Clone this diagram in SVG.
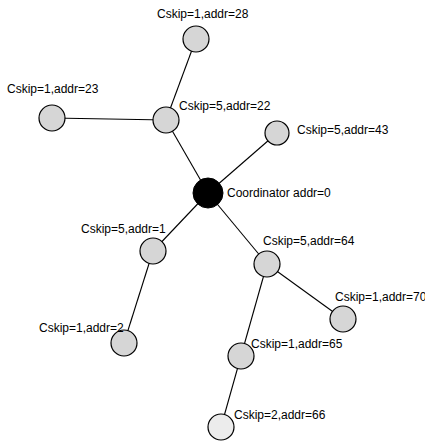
<svg xmlns="http://www.w3.org/2000/svg" width="425" height="442" viewBox="0 0 425 442">
<style>
.n{fill:#d6d6d6;stroke:#000;stroke-width:1.2}
.c{fill:#000;stroke:#000}
.l{font-family:"Liberation Sans",Arial,sans-serif;font-size:12px;fill:#000}
.e{stroke:#000;stroke-width:1.1;fill:none}
</style>
<rect width="425" height="442" fill="#fff"/>
<g id="connectors">
<line class="e" x1="208" y1="193" x2="166" y2="120"/>
<line class="e" x1="166" y1="120" x2="196" y2="39"/>
<line class="e" x1="166" y1="120" x2="52" y2="118"/>
<line class="e" x1="208" y1="193" x2="277" y2="133"/>
<line class="e" x1="208" y1="193" x2="153" y2="251"/>
<line class="e" x1="153" y1="251" x2="124" y2="343"/>
<line class="e" x1="208" y1="193" x2="267" y2="264"/>
<line class="e" x1="267" y1="264" x2="343" y2="319"/>
<line class="e" x1="267" y1="264" x2="241" y2="356"/>
<line class="e" x1="241" y1="356" x2="221" y2="427"/>
</g>
<g id="node-coordinator"><circle class="c" cx="208" cy="193" r="15"/><text class="l" x="227" y="197">Coordinator addr=0</text></g>
<g id="node-22"><circle class="n" cx="166" cy="120" r="13"/><text class="l" x="179" y="110">Cskip=5,addr=22</text></g>
<g id="node-28"><circle class="n" cx="196" cy="39" r="13"/><text class="l" x="157" y="18">Cskip=1,addr=28</text></g>
<g id="node-23"><circle class="n" cx="52" cy="118" r="13"/><text class="l" x="7" y="93">Cskip=1,addr=23</text></g>
<g id="node-43"><circle class="n" cx="277" cy="133" r="12"/><text class="l" x="297" y="134">Cskip=5,addr=43</text></g>
<g id="node-1"><circle class="n" cx="153" cy="251" r="13"/><text class="l" x="81" y="233">Cskip=5,addr=1</text></g>
<g id="node-2"><circle class="n" cx="124" cy="343" r="13"/><text class="l" x="39" y="332">Cskip=1,addr=2</text></g>
<g id="node-64"><circle class="n" cx="267" cy="264" r="13"/><text class="l" x="263" y="245">Cskip=5,addr=64</text></g>
<g id="node-70"><circle class="n" cx="343" cy="319" r="13"/><text class="l" x="335" y="301">Cskip=1,addr=70</text></g>
<g id="node-65"><circle class="n" cx="241" cy="356" r="13"/><text class="l" x="251" y="348">Cskip=1,addr=65</text></g>
<g id="node-66"><circle class="n" cx="221" cy="427" r="13" style="fill:#ececec"/><text class="l" x="234" y="419">Cskip=2,addr=66</text></g>
</svg>
